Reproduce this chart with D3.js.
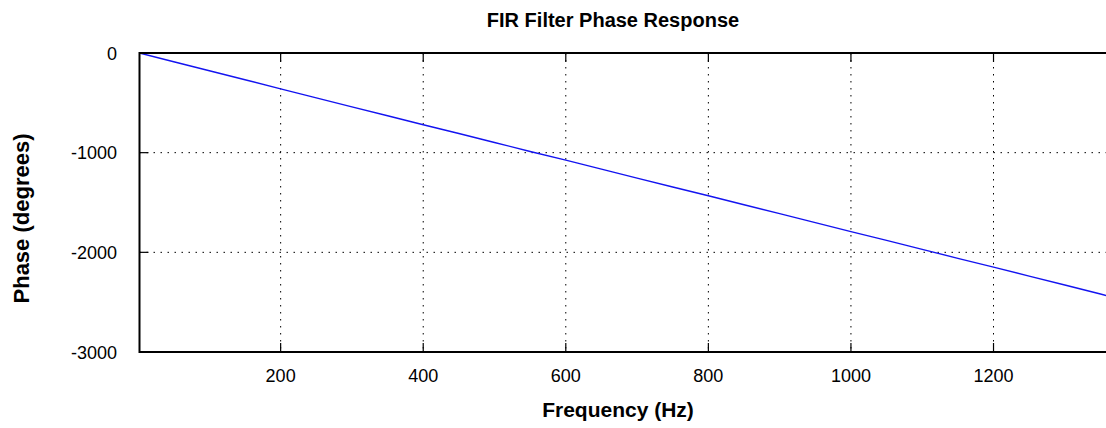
<!DOCTYPE html>
<html lang="en">
<head>
    <meta charset="UTF-8">
    <title>FIR Filter Phase Response</title>
    <script src="https://cdn.jsdelivr.net/npm/d3@7"></script>
    <style>
        body { margin: 0; background: white; }
        text { font-family: "Liberation Sans", Arial, sans-serif; fill: black; }
        .grid line { stroke: black; stroke-width: 1; stroke-dasharray: 1.5,5.5; }
        .frame { stroke: black; stroke-width: 2; }
    </style>
</head>
<body>
<script>
    const width = 1106, height = 428;

    // frequency (Hz) and phase (degrees)
    const freqs  = [2, 50, 100, 150, 200, 250, 300, 350, 400, 450, 500, 550, 600, 650, 700,
                    750, 800, 850, 900, 950, 1000, 1050, 1100, 1150, 1200, 1250, 1300, 1350, 1362];
    const phases = [0, -88, -178, -268, -360, -450, -540, -630, -720, -808, -898, -988, -1075, -1165, -1255,
                    -1345, -1432, -1523, -1612, -1702, -1792, -1880, -1970, -2060, -2148, -2238, -2328, -2418, -2440];

    const xTicks = [200, 400, 600, 800, 1000, 1200];
    const yTicks = [0, -1000, -2000, -3000];

    const plotL = 139.5, plotR = 1109, plotT = 53, plotB = 352;

    const x = d3.scaleLinear().domain([2, 1362]).range([plotL, plotR]);
    const y = d3.scaleLinear().domain([-3000, 0]).range([plotB, plotT]);

    const svg = d3.select("body").append("svg")
        .attr("width", width)
        .attr("height", height);

    // dotted grid
    const grid = svg.append("g").attr("class", "grid");
    grid.selectAll("line.vx")
        .data(xTicks)
        .join("line").attr("class", "vx")
        .attr("x1", d => x(d)).attr("x2", d => x(d))
        .attr("y1", plotT).attr("y2", plotB);
    grid.selectAll("line.hy")
        .data(yTicks.filter(d => d !== 0 && d !== -3000))
        .join("line").attr("class", "hy")
        .attr("x1", plotL).attr("x2", plotR)
        .attr("y1", d => y(d)).attr("y2", d => y(d));

    // inner ticks
    const tickLen = 9;
    const ticks = svg.append("g").attr("stroke", "black").attr("stroke-width", 1.2);
    ticks.selectAll("line.bt").data(xTicks).join("line").attr("class", "bt")
        .attr("x1", d => x(d)).attr("x2", d => x(d))
        .attr("y1", plotB).attr("y2", plotB - tickLen);
    ticks.selectAll("line.tt").data(xTicks).join("line").attr("class", "tt")
        .attr("x1", d => x(d)).attr("x2", d => x(d))
        .attr("y1", plotT).attr("y2", plotT + tickLen);
    ticks.selectAll("line.lt").data(yTicks).join("line").attr("class", "lt")
        .attr("x1", plotL).attr("x2", plotL + tickLen)
        .attr("y1", d => y(d)).attr("y2", d => y(d));

    // clip for the curve
    svg.append("clipPath").attr("id", "plot")
        .append("rect").attr("x", plotL).attr("y", plotT)
        .attr("width", plotR - plotL).attr("height", plotB - plotT);

    const line = d3.line()
        .x((d, i) => x(freqs[i]))
        .y(d => y(d));

    svg.append("path")
        .datum(phases)
        .attr("clip-path", "url(#plot)")
        .attr("fill", "none")
        .attr("stroke", "#1414f0")
        .attr("stroke-width", 1.4)
        .attr("d", line);

    // frame (left, bottom, top)
    svg.append("line").attr("class", "frame")
        .attr("x1", plotL).attr("x2", plotL).attr("y1", plotT - 1).attr("y2", plotB + 1);
    svg.append("line").attr("class", "frame")
        .attr("x1", plotL).attr("x2", plotR).attr("y1", plotB).attr("y2", plotB);
    svg.append("line").attr("class", "frame")
        .attr("x1", plotL).attr("x2", plotR).attr("y1", plotT).attr("y2", plotT);

    // tick labels
    svg.selectAll("text.xl").data(xTicks).join("text").attr("class", "xl")
        .attr("x", d => x(d)).attr("y", 382)
        .attr("text-anchor", "middle")
        .style("font-size", "18px")
        .text(d => d);
    svg.selectAll("text.yl").data(yTicks).join("text").attr("class", "yl")
        .attr("x", 117).attr("y", d => y(d) + 6.5)
        .attr("text-anchor", "end")
        .style("font-size", "18px")
        .text(d => d);

    // titles
    svg.append("text")
        .attr("x", 613).attr("y", 26.5)
        .attr("text-anchor", "middle")
        .style("font-size", "20px").style("font-weight", "bold")
        .text("FIR Filter Phase Response");
    svg.append("text")
        .attr("x", 618).attr("y", 417)
        .attr("text-anchor", "middle")
        .style("font-size", "21px").style("font-weight", "bold")
        .text("Frequency (Hz)");
    svg.append("text")
        .attr("transform", "translate(29,218.5) rotate(-90)")
        .attr("text-anchor", "middle")
        .style("font-size", "22px").style("font-weight", "bold")
        .text("Phase (degrees)");
</script>
</body>
</html>
